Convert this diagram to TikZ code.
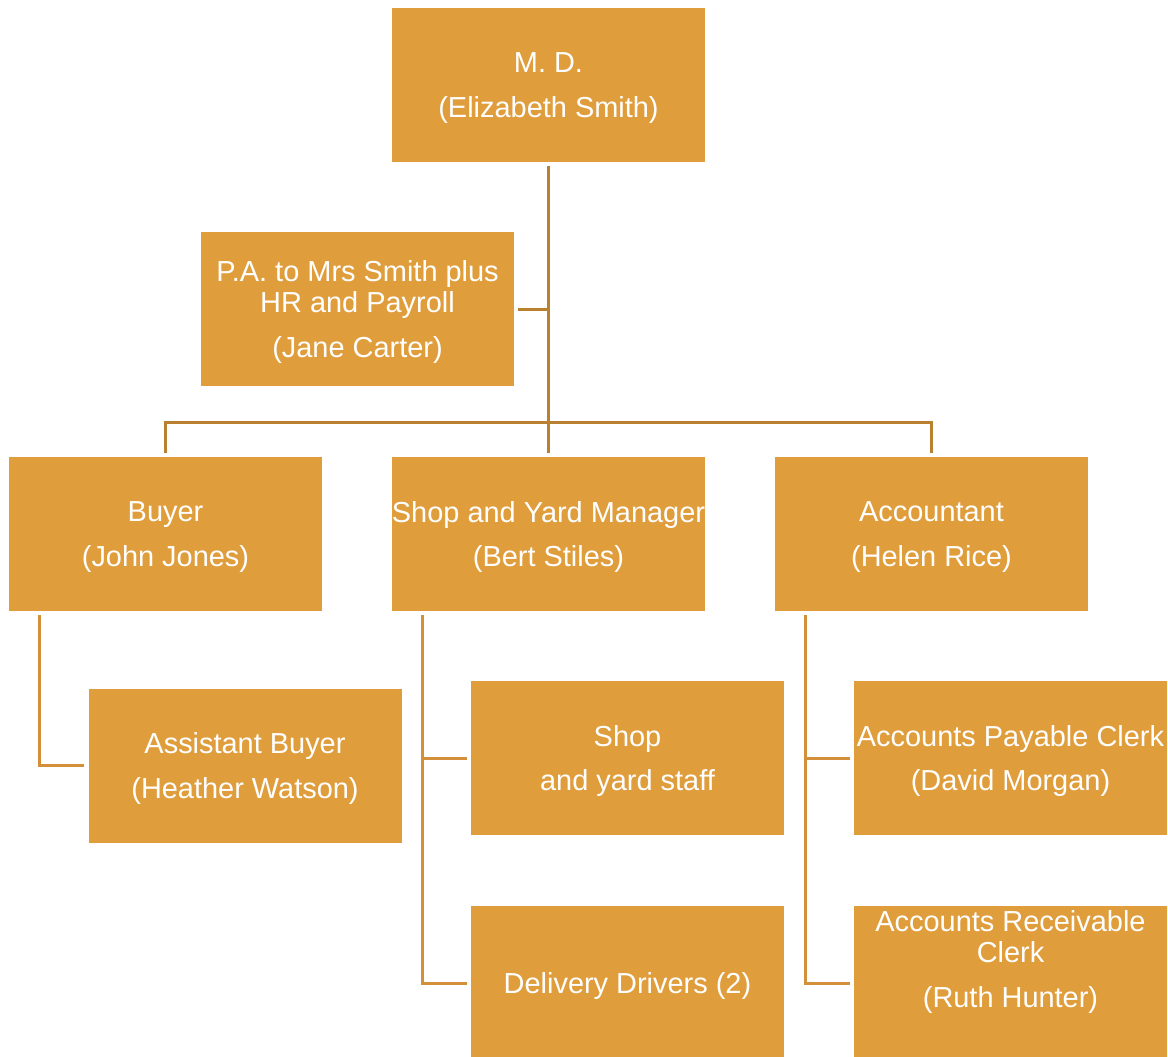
\documentclass[tikz,border=0pt]{standalone}
\usepackage{fontspec}
\setmainfont{Liberation Sans}
\definecolor{boxfill}{HTML}{E09D3C}
\definecolor{lineA}{HTML}{B8802F}
\definecolor{lineB}{HTML}{D48F3A}
\newcommand{\orgbox}[4]{%
  \node[box] (#1) at (#2,#3) {};
  \node[lbl] (#1-t) at (#2,#3+3) {#4};}
\begin{document}
\begin{tikzpicture}[x=0.75pt,y=-0.75pt,
  box/.style={fill=boxfill,draw=none,minimum width=234.75pt,minimum height=115.5pt,inner sep=0pt},
  lbl/.style={text=white,align=center,inner sep=0pt,font=\fontsize{21.7}{23.25}\selectfont},
  conA/.style={draw=lineA,line width=2.25pt},
  conB/.style={draw=lineB,line width=2.25pt}]
\useasboundingbox (0,0) rectangle (1168,1057);
\begin{scope}
\clip (0,0) rectangle (1168,1057);
\orgbox{md}{548.5}{85}{M. D.\\[10pt](Elizabeth Smith)}
\orgbox{pa}{357.5}{309}{P.A. to Mrs Smith plus\\HR and Payroll\\[11pt](Jane Carter)}
\orgbox{buyer}{165.5}{534}{Buyer\\[10pt](John Jones)}
\orgbox{sym}{548.5}{534}{Shop and Yard Manager\\[10pt](Bert Stiles)}
\orgbox{acc}{931.5}{534}{Accountant\\[10pt](Helen Rice)}
\orgbox{ab}{245}{765.5}{Assistant Buyer\\[10pt](Heather Watson)}
\orgbox{staff}{627.5}{758}{Shop\\[10pt]and yard staff}
\orgbox{dd}{627.5}{983}{Delivery Drivers (2)}
\orgbox{ap}{1010.5}{758}{Accounts Payable Clerk\\[10pt](David Morgan)}
\node[box] (ar) at (1010.5,983) {};
\node[lbl] (ar-t) at (1010.5,962) {Accounts Receivable\\Clerk\\[11pt](Ruth Hunter)};
\end{scope}
% top level connectors
\coordinate (bar) at (548.5,422);
\draw[conA] ([yshift=-3pt]md.south) -- ([yshift=3pt]sym.north);
\draw[conA] ([xshift=3pt]pa.east) -- (pa.east -| md.south);
\draw[conA] ([yshift=3pt]buyer.north) |- (bar) -| ([yshift=3pt]acc.north);
% buyer
\coordinate (bv) at (39,615);
\draw[conB] (bv |- buyer.south) ++(0,-3pt) |- ([xshift=-3pt]ab.west);
% shop
\coordinate (sv) at (422,615);
\draw[conB] ([yshift=-3pt]sv |- sym.south) -- (sv |- dd.west) -- ([xshift=-3pt]dd.west);
\draw[conB] (sv |- staff.west) -- ([xshift=-3pt]staff.west);
% accountant
\coordinate (av) at (805,615);
\draw[conB] ([yshift=-3pt]av |- acc.south) -- (av |- ar.west) -- ([xshift=-3pt]ar.west);
\draw[conB] (av |- ap.west) -- ([xshift=-3pt]ap.west);
\end{tikzpicture}
\end{document}
